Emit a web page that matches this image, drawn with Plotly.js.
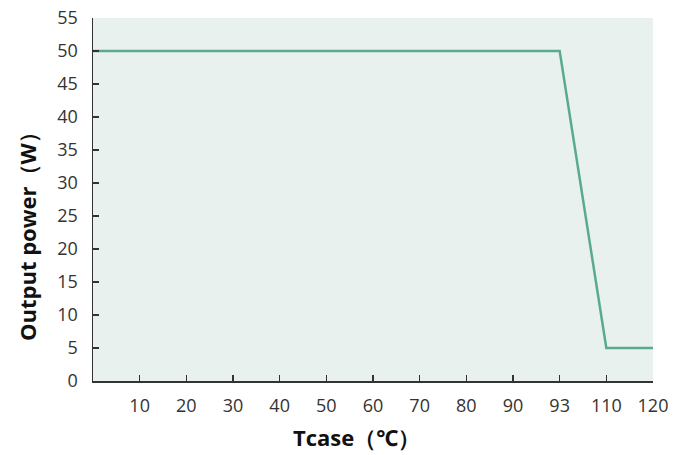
<!DOCTYPE html>
<html>
<head>
<meta charset="utf-8">
<script src="https://cdn.plot.ly/plotly-3.0.1.min.js"></script>
<style>html,body{margin:0;padding:0;background:#fff;}#chart{width:691px;height:455px;}</style>
</head>
<body>
<div id="chart"></div>
<script>
const categories = ['0','10','20','30','40','50','60','70','80','90','93','110','120'];
const tickLabels = ['10','20','30','40','50','60','70','80','90','93','110','120'];
const tcase = ['0','93','110','120'];
const power = [50, 50, 5, 5];
const xTitle = 'Tcase（℃）';
const yTitle = 'Output power（W）';

const trace = {
  x: tcase, y: power, type: 'scatter', mode: 'lines',
  line: {color: '#5aab8c', width: 2.5}, hoverinfo: 'skip'
};
const fam = 'Open Sans, Noto Sans, sans-serif';
const layout = {
  width: 691, height: 455,
  margin: {l: 93, r: 38, t: 18, b: 74},
  paper_bgcolor: '#ffffff', plot_bgcolor: '#e8f1ee',
  showlegend: false, font: {family: fam, color: '#333'},
  xaxis: {
    type: 'category', categoryorder: 'array', categoryarray: categories,
    range: [0, 12], tickmode: 'array', tickvals: tickLabels, ticktext: tickLabels,
    showgrid: false, zeroline: false, showline: true, linecolor: '#333', linewidth: 1.5,
    ticks: 'inside', ticklen: 6, tickwidth: 1.5, tickcolor: '#333',
    tickfont: {size: 18, color: '#333', family: fam}, ticklabelstandoff: 8
  },
  yaxis: {
    range: [0, 55], dtick: 5, tick0: 0,
    showgrid: false, zeroline: false, showline: true, linecolor: '#333', linewidth: 1.5,
    ticks: 'inside', ticklen: 6, tickwidth: 1.5, tickcolor: '#333',
    tickfont: {size: 18, color: '#333', family: fam}, ticklabelstandoff: 10
  },
  annotations: [
    {text: xTitle, xref: 'paper', yref: 'paper', x: (356 - 93) / 560, y: (455 - 437 - 74) / 363,
     xanchor: 'center', yanchor: 'middle', showarrow: false,
     font: {size: 22, color: '#111', family: fam, weight: 'bold'}},
    {text: yTitle, xref: 'paper', yref: 'paper', x: (27 - 93) / 560, y: (455 - 231 - 74) / 363,
     xanchor: 'center', yanchor: 'middle', showarrow: false, textangle: -90,
     font: {size: 22, color: '#111', family: fam, weight: 'bold'}}
  ]
};
Plotly.newPlot('chart', [trace], layout, {displayModeBar: false, staticPlot: true});
</script>
</body>
</html>
